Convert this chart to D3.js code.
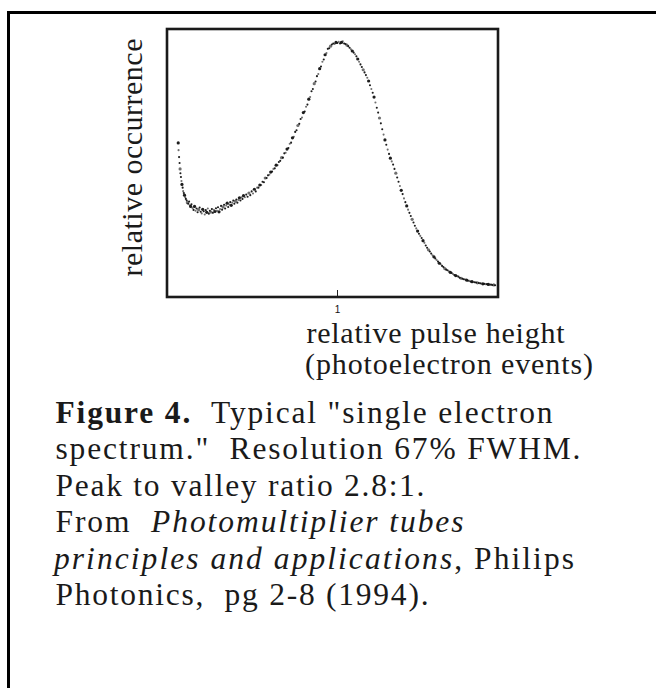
<!DOCTYPE html>
<html>
<head>
<meta charset="utf-8">
<script src="https://cdn.jsdelivr.net/npm/d3@7"></script>
<style>
  html, body { margin: 0; padding: 0; background: #fff; }
  svg { display: block; }
  text { white-space: pre; }
</style>
</head>
<body>
<div id="chart"></div>
<script>
// ---------- DATA ----------
const pulseHeight = [
  0.066,0.068,0.071,0.074,0.077,0.079,0.082,0.085,0.088,0.092,0.095,0.099,0.103,0.107,0.111,0.116,0.120,0.125,0.130,0.134,0.139,0.144,
  0.150,0.156,0.162,0.168,0.174,0.180,0.186,0.192,0.198,0.204,0.210,0.216,0.222,0.228,0.234,0.240,0.246,0.252,0.258,0.264,0.270,0.276,0.282,0.288,0.294,0.300,0.306,0.312,0.318,0.324,0.330,0.336,0.342,0.348,0.354,0.360,0.366,0.372,0.378,0.384,0.390,0.396,0.402,0.408,0.414,0.420,0.426,0.432,0.438,0.444,0.450,
  0.458,0.466,0.474,0.482,0.490,0.498,0.506,0.514,0.522,0.530,0.538,0.546,0.554,0.562,0.570,0.578,0.586,0.594,0.602,0.610,0.618,0.626,0.634,0.642,0.650,0.658,0.666,0.674,0.682,0.690,0.698,0.706,0.714,0.722,0.730,0.738,0.746,0.754,0.762,0.770,0.778,0.786,0.794,0.802,0.810,0.818,0.826,0.834,0.842,0.850,0.858,0.866,0.874,0.882,0.890,0.898,0.906,0.914,0.922,0.930,0.938,0.946,0.954,
  0.962,0.970,0.978,0.986,0.994,1.002,1.010,1.018,1.026,1.034,1.042,1.050,1.058,1.066,1.074,
  1.082,1.090,1.098,1.106,1.114,1.122,1.130,1.138,1.146,1.154,1.162,1.170,1.178,1.186,1.194,1.202,1.210,1.218,1.226,1.234,1.242,1.250,1.258,1.266,1.274,1.282,1.290,1.298,1.306,1.314,1.322,1.330,1.338,1.346,1.354,1.362,1.370,1.378,1.386,1.394,1.402,1.410,1.418,1.426,1.434,1.442,1.450,1.458,1.466,1.474,1.482,1.490,1.498,1.506,1.514,1.522,1.530,1.538,1.546,1.554,1.562,1.570,1.578,1.586,1.594,1.602,1.610,1.618,1.626,1.634,1.642,1.650,1.658,1.666,1.674,1.682,1.690,1.698,
  1.706,1.714,1.722,1.730,1.738,1.746,1.754,1.762,1.770,1.778,1.786,1.794,1.802,1.810,1.818,1.826,1.834,1.842,1.850,1.858,1.866,1.874,1.882,1.890,1.898,1.906,1.914,1.922,1.930
];
const occurrence = [
  0.575,0.548,0.522,0.500,0.478,0.462,0.448,0.433,0.420,0.408,0.395,0.388,0.380,0.372,0.366,0.360,0.352,0.348,0.356,0.342,0.338,0.346,
  0.332,0.325,0.338,0.322,0.330,0.316,0.326,0.334,0.318,0.312,0.327,0.320,0.308,0.324,0.316,0.330,0.311,0.322,0.317,0.328,0.314,0.325,0.319,0.331,0.322,0.335,0.318,0.328,0.340,0.326,0.336,0.344,0.330,0.341,0.350,0.336,0.345,0.354,0.342,0.352,0.360,0.348,0.357,0.364,0.352,0.362,0.370,0.360,0.372,0.366,0.378,
  0.372,0.382,0.374,0.388,0.380,0.394,0.386,0.402,0.394,0.408,0.408,0.418,0.418,0.430,0.428,0.444,0.444,0.454,0.456,0.466,0.468,0.478,0.480,0.492,0.492,0.504,0.508,0.520,0.520,0.536,0.538,0.552,0.556,0.572,0.576,0.594,0.598,0.616,0.622,0.640,0.646,0.664,0.670,0.688,0.692,0.710,0.718,0.738,0.746,0.768,0.776,0.796,0.804,0.824,0.832,0.852,0.860,0.878,0.886,0.904,0.910,0.926,0.928,
  0.936,0.942,0.946,0.944,0.950,0.948,0.952,0.946,0.950,0.954,0.946,0.944,0.940,0.936,0.930,
  0.924,0.918,0.912,0.906,0.898,0.888,0.878,0.868,0.858,0.848,0.838,0.828,0.818,0.806,0.790,0.776,0.762,0.746,0.726,0.706,0.688,0.668,0.648,0.626,0.606,0.586,0.568,0.550,0.534,0.518,0.506,0.494,0.478,0.462,0.446,0.430,0.414,0.398,0.384,0.368,0.354,0.340,0.326,0.314,0.302,0.290,0.278,0.266,0.256,0.246,0.236,0.228,0.220,0.210,0.202,0.192,0.184,0.176,0.170,0.162,0.156,0.150,0.144,0.138,0.132,0.126,0.122,0.116,0.112,0.106,0.102,0.100,0.096,0.092,0.090,0.086,0.082,0.080,
  0.078,0.076,0.072,0.070,0.068,0.066,0.065,0.063,0.061,0.060,0.058,0.057,0.056,0.055,0.054,0.053,0.052,0.051,0.050,0.049,0.049,0.048,0.048,0.047,0.046,0.046,0.045,0.045,0.044
];
const xTicks = [1];
const xTickLabels = ["1"];
const yLabel = "relative occurrence";
const xLabelLines = ["relative pulse height", "(photoelectron events)"];
const captionLines = [
  [{t: "Figure 4.", b: true}, {t: "  Typical \"single electron"}],
  [{t: "spectrum.\"  Resolution 67% FWHM."}],
  [{t: "Peak to valley ratio 2.8:1."}],
  [{t: "From  "}, {t: "Photomultiplier tubes", i: true}],
  [{t: "principles and applications", i: true}, {t: ", Philips"}],
  [{t: "Photonics,  pg 2-8 (1994)."}]
];

// ---------- LAYOUT ----------
const W = 656, H = 688;
const box = {left: 167, right: 498, top: 29, bottom: 297};
const serif = "'Liberation Serif', 'Times New Roman', serif";

const svg = d3.select("#chart").append("svg").attr("width", W).attr("height", H);

// outer frame
svg.append("rect").attr("x", 8.5).attr("y", 12.5).attr("width", 660).attr("height", 700)
  .attr("fill", "none").attr("stroke", "#000").attr("stroke-width", 3);

const x = d3.scaleLinear().domain([0, 1.947]).range([box.left, box.right]);
const y = d3.scaleLinear().domain([0, 1]).range([box.bottom, box.top]);

// dots
const pts = pulseHeight.map((v, i) => [v, occurrence[i]]);
svg.append("g").selectAll("circle").data(pts).join("circle")
  .attr("cx", d => x(d[0])).attr("cy", d => y(d[1]))
  .attr("r", (d, i) => (i % 4 === 0 ? 1.6 : 1.05))
  .attr("fill", "#111").attr("fill-opacity", (d, i) => (i % 3 === 1 ? 0.6 : 0.95));

// x axis tick
const xAxis = d3.axisBottom(x).tickValues(xTicks).tickFormat((d, i) => xTickLabels[i])
  .tickSizeInner(-7).tickSizeOuter(0).tickPadding(9);
const gx = svg.append("g").attr("transform", `translate(0,${box.bottom})`).call(xAxis);
gx.select(".domain").remove();
gx.selectAll(".tick line").attr("stroke", "#222").attr("stroke-width", 1);
gx.selectAll(".tick text").attr("font-family", "'Liberation Sans', Arial, sans-serif")
  .attr("font-size", 10).attr("fill", "#111");

// plot box
svg.append("rect").attr("x", box.left).attr("y", box.top)
  .attr("width", box.right - box.left).attr("height", box.bottom - box.top)
  .attr("fill", "none").attr("stroke", "#1a1a1a").attr("stroke-width", 2.6);

function fitWidth(sel, target) {
  const node = sel.node();
  const n = node.getNumberOfChars();
  const len = node.getComputedTextLength();
  sel.attr("letter-spacing", ((target - len) / (n - 1)).toFixed(3));
}

// y label
const ylw = 238;
const yl = svg.append("text")
  .attr("transform", `translate(141.5,${(38.3 + 276.7) / 2 + ylw / 2}) rotate(-90)`)
  .attr("text-anchor", "start").attr("font-family", serif).attr("font-size", 30)
  .attr("fill", "#1a1a1a").text(yLabel);
fitWidth(yl, ylw);

// x label
const xlTargets = [[306.5, 343, 258], [305, 374, 288]];
xLabelLines.forEach((s, i) => {
  const t = svg.append("text").attr("x", xlTargets[i][0]).attr("y", xlTargets[i][1])
    .attr("font-family", serif).attr("font-size", 30).attr("fill", "#1a1a1a").text(s);
  fitWidth(t, xlTargets[i][2]);
});

// caption
const capX = 55.5;
const capBase = [423, 459.4, 495.8, 532.2, 568.6, 605];
const capWidth = [497, 525, 369, 408, 520, 373];
captionLines.forEach((segs, i) => {
  const t = svg.append("text").attr("x", i === 4 ? 54 : capX).attr("y", capBase[i])
    .attr("font-family", serif).attr("font-size", 31.5).attr("fill", "#1a1a1a");
  segs.forEach(s => {
    t.append("tspan").text(s.t)
      .attr("font-weight", s.b ? "bold" : null)
      .attr("font-style", s.i ? "italic" : null);
  });
  fitWidth(t, capWidth[i]);
});
</script>
</body>
</html>
